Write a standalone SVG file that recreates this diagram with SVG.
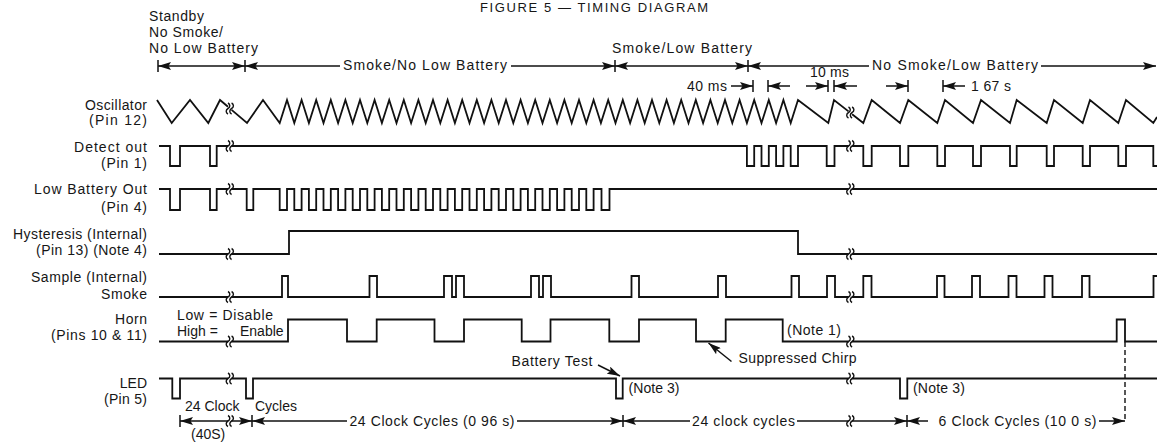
<svg xmlns="http://www.w3.org/2000/svg" width="1157" height="442" viewBox="0 0 1157 442">
<style>
.t{font-family:"Liberation Sans",Arial,Helvetica,sans-serif;font-size:14px;fill:#161616;white-space:pre}
.e{text-anchor:end}
.sig{fill:none;stroke:#111;stroke-width:1.8;stroke-linejoin:miter}
.ar{fill:none;stroke:#111;stroke-width:1.5}
.tk{stroke:#111;stroke-width:1.5}
.brk{fill:none;stroke:#111;stroke-width:1.4}
</style>
<defs>
<marker id="ah" viewBox="0 0 13 8" refX="13" refY="4" markerWidth="13" markerHeight="8" markerUnits="userSpaceOnUse" orient="auto-start-reverse">
<path d="M0,0 L13,4 L0,8 L2.5,4 Z" fill="#111"/>
</marker>
<path id="brk" d="M0,-5.5 c2.4,1.2 2.4,4.3 0,5.5 c-2.4,1.2 -2.4,4.3 0,5.5 M3.6,-5.5 c2.4,1.2 2.4,4.3 0,5.5 c-2.4,1.2 -2.4,4.3 0,5.5"/>
</defs>
<rect width="1157" height="442" fill="#fff"/>

<text class="t" x="480" y="11.5" style="font-size:13px" textLength="228" lengthAdjust="spacing">FIGURE 5 — TIMING DIAGRAM</text>

<g id="labels">
<text class="t e" x="147" y="109.5" textLength="62">Oscillator</text>
<text class="t e" x="147" y="124.5" textLength="58">(Pin 12)</text>
<text class="t e" x="147" y="151.5" textLength="73">Detect out</text>
<text class="t e" x="147" y="167.5" textLength="46">(Pin 1)</text>
<text class="t e" x="147" y="193.5" textLength="113">Low Battery Out</text>
<text class="t e" x="147" y="211.5" textLength="46">(Pin 4)</text>
<text class="t e" x="147" y="238.5" textLength="134">Hysteresis (Internal)</text>
<text class="t e" x="147" y="255" textLength="111">(Pin 13) (Note 4)</text>
<text class="t e" x="147" y="281.5" textLength="116">Sample (Internal)</text>
<text class="t e" x="147" y="298.5" textLength="46">Smoke</text>
<text class="t e" x="147" y="324" textLength="32">Horn</text>
<text class="t e" x="147" y="340" textLength="96">(Pins 10 &amp; 11)</text>
<text class="t e" x="147" y="388">LED</text>
<text class="t e" x="147" y="404" textLength="43">(Pin 5)</text>
</g>

<g id="header">
<text class="t" x="149" y="21" textLength="55">Standby</text>
<text class="t" x="149" y="37" textLength="74">No Smoke/</text>
<text class="t" x="149" y="52.5" textLength="109">No Low Battery</text>
<text class="t" x="343" y="70" textLength="164">Smoke/No Low Battery</text>
<text class="t" x="612" y="52.5" textLength="140">Smoke/Low Battery</text>
<text class="t" x="872" y="70" textLength="166">No Smoke/Low Battery</text>
<text class="t" x="687" y="90.5" textLength="40">40 ms</text>
<text class="t" x="810" y="77" textLength="39">10 ms</text>
<text class="t" x="971" y="90.5" textLength="40">1 67 s</text>
</g>

<g id="connectors">
<line class="ar" x1="158" y1="66" x2="245" y2="66" marker-start="url(#ah)" marker-end="url(#ah)"/>
<line class="ar" x1="245" y1="66" x2="340" y2="66" marker-start="url(#ah)"/>
<line class="ar" x1="511" y1="66" x2="615" y2="66" marker-end="url(#ah)"/>
<line class="ar" x1="615" y1="66" x2="748" y2="66" marker-start="url(#ah)" marker-end="url(#ah)"/>
<line class="ar" x1="748" y1="66" x2="869" y2="66" marker-start="url(#ah)"/>
<line class="ar" x1="1041" y1="66" x2="1156" y2="66" marker-end="url(#ah)"/>
<path class="tk" d="M158,60V72 M245,60V72 M615,60V72 M748,60V72"/>

<line class="ar" x1="731" y1="86" x2="753" y2="86" marker-end="url(#ah)"/>
<line class="ar" x1="790" y1="86" x2="768" y2="86" marker-end="url(#ah)"/>
<line class="ar" x1="806" y1="86" x2="828" y2="86" marker-end="url(#ah)"/>
<line class="ar" x1="857" y1="86" x2="834" y2="86" marker-end="url(#ah)"/>
<line class="ar" x1="886" y1="86" x2="908" y2="86" marker-end="url(#ah)"/>
<line class="ar" x1="965" y1="86" x2="943" y2="86" marker-end="url(#ah)"/>
<path class="tk" d="M753,80V92 M768,80V92 M828,80V92 M834,80V92 M908,80V92 M943,80V92"/>

<line class="ar" x1="228" y1="421" x2="180" y2="421" marker-end="url(#ah)"/>
<line class="ar" x1="231.6" y1="421" x2="252" y2="421" marker-end="url(#ah)"/>
<line class="ar" x1="347" y1="421" x2="252" y2="421" marker-end="url(#ah)"/>
<line class="ar" x1="517" y1="421" x2="623" y2="421" marker-end="url(#ah)"/>
<line class="ar" x1="690" y1="421" x2="623" y2="421" marker-end="url(#ah)"/>
<line class="ar" x1="797" y1="421" x2="848.5" y2="421"/>
<line class="ar" x1="852.1" y1="421" x2="907" y2="421" marker-end="url(#ah)"/>
<line class="ar" x1="928" y1="421" x2="907" y2="421" marker-end="url(#ah)"/>
<line class="ar" x1="1099" y1="421" x2="1125" y2="421" marker-end="url(#ah)"/>
<path class="tk" d="M180,415V427 M252,415V427 M623,415V427 M907,415V427"/>
<line x1="1125" y1="342" x2="1125" y2="420" stroke="#111" stroke-width="1.4" stroke-dasharray="5,3"/>
<use href="#brk" class="brk" x="228" y="421"/>
<use href="#brk" class="brk" x="848.5" y="421"/>

<line class="ar" x1="598" y1="365" x2="620" y2="376" marker-end="url(#ah)"/>
<line class="ar" x1="731.5" y1="361.5" x2="708.5" y2="343" marker-end="url(#ah)"/>
</g>

<g id="oscillator">
<path class="sig" d="M157,100 L171.7,123 L190,100 L208.3,123 L220,100 L228,106.8"/>
<path class="sig" d="M231.6,109.9 L247,123 L263,100 L279.7,123 L287,100 L294.3,123 L301.6,100 L308.9,123 L316.2,100 L323.5,123 L330.8,100 L338.1,123 L345.4,100 L352.7,123 L360,100 L367.3,123 L374.6,100 L381.9,123 L389.2,100 L396.5,123 L403.8,100 L411.1,123 L418.4,100 L425.7,123 L433,100 L440.3,123 L447.6,100 L454.9,123 L462.2,100 L469.5,123 L476.8,100 L484.1,123 L491.4,100 L498.7,123 L506,100 L513.3,123 L520.6,100 L527.9,123 L535.2,100 L542.5,123 L549.8,100 L557.1,123 L564.4,100 L571.7,123 L579,100 L586.3,123 L593.6,100 L600.9,123 L608.2,100 L615.5,123 L622.8,100 L630.1,123 L637.4,100 L644.7,123 L652,100 L659.3,123 L666.6,100 L673.9,123 L681.2,100 L688.5,123 L695.8,100 L703.1,123 L710.4,100 L717.7,123 L725,100 L732.3,123 L739.6,100 L746.9,123 L754.2,100 L761.5,123 L768.8,100 L776.1,123 L783.4,100 L790.7,123 L798,100 L828.3,123 L834,100 L848.5,111.4"/>
<path class="sig" d="M852.1,114.2 L863.3,123 L871.7,100 L900,123 L908.3,100 L937.3,123 L945,100 L973,123 L981,100 L1010,123 L1016.7,100 L1046.7,123 L1054,100 L1082.7,123 L1090,100 L1118.3,123 L1126,100 L1153.3,123 L1157,117"/>
<use href="#brk" class="brk" x="228" y="108.5"/>
<use href="#brk" class="brk" x="848.5" y="112.5"/>
</g>

<g id="detect">
<path class="sig" d="M159,146 H170 V166 H180 V146 H210 V166 H216.7 V146 H228"/>
<path class="sig" d="M231.6,146 H746.9 V166 H754.2 V146 H761.5 V166 H768.8 V146 H776.1 V166 H783.4 V146 H790.7 V166 H798 V146 H826.7 V166 H834.5 V146 H848.5"/>
<path class="sig" d="M852.1,146 H863.3 V166 H871.7 V146 H900 V166 H908.3 V146 H937.3 V166 H945 V146 H973 V166 H981 V146 H1010 V166 H1016.7 V146 H1046.7 V166 H1054 V146 H1082.7 V166 H1090 V146 H1118.3 V166 H1126 V146 H1153.3 V166 H1157"/>
<use href="#brk" class="brk" x="228" y="146"/>
<use href="#brk" class="brk" x="848.5" y="146"/>
</g>

<g id="lowbattery">
<path class="sig" d="M159,189 H170 V210 H180 V189 H210 V210 H216.7 V189 H228"/>
<path class="sig" d="M231.6,189 H246.7 V210 H253.3 V189 H279.7 V210 H287 V189 H294.3 V210 H301.6 V189 H308.9 V210 H316.2 V189 H323.5 V210 H330.8 V189 H338.1 V210 H345.4 V189 H352.7 V210 H360 V189 H367.3 V210 H374.6 V189 H381.9 V210 H389.2 V189 H396.5 V210 H403.8 V189 H411.1 V210 H418.4 V189 H425.7 V210 H433 V189 H440.3 V210 H447.6 V189 H454.9 V210 H462.2 V189 H469.5 V210 H476.8 V189 H484.1 V210 H491.4 V189 H498.7 V210 H506 V189 H513.3 V210 H520.6 V189 H527.9 V210 H535.2 V189 H542.5 V210 H549.8 V189 H557.1 V210 H564.4 V189 H571.7 V210 H579 V189 H586.3 V210 H593.6 V189 H601.5 V210 H609.5 V189 H848.5"/>
<path class="sig" d="M852.1,189 H1157"/>
<use href="#brk" class="brk" x="228" y="189"/>
<use href="#brk" class="brk" x="848.5" y="189"/>
</g>

<g id="hysteresis">
<path class="sig" d="M159,254 H228"/>
<path class="sig" d="M231.6,254 H289 V231 H798 V254 H848.5"/>
<path class="sig" d="M852.1,254 H1157"/>
<use href="#brk" class="brk" x="228" y="254"/>
<use href="#brk" class="brk" x="848.5" y="254"/>
</g>

<g id="sample">
<path class="sig" d="M159,297 H228"/>
<path class="sig" d="M231.6,297 H282 V276 H288 V297 H369.5 V276 H377 V297 H444 V276 H452 V297 H456 V276 H464 V297 H531 V276 H539 V297 H543 V276 H551 V297 H631.5 V276 H639 V297 H718 V276 H726 V297 H791.5 V276 H799 V297 H827 V276 H835 V297 H848.5"/>
<path class="sig" d="M852.1,297 H863.3 V276 H871.5 V297 H937 V276 H944.5 V297 H972 V276 H980 V297 H1008.5 V276 H1016.5 V297 H1044.5 V276 H1052.5 V297 H1082 V276 H1089.5 V297 H1153.5 V276 H1157"/>
<use href="#brk" class="brk" x="228" y="297"/>
<use href="#brk" class="brk" x="848.5" y="297"/>
</g>

<g id="horn">
<path class="sig" d="M159,341.5 H228"/>
<path class="sig" d="M231.6,341.5 H288 V319.5 H347 V341.5 H376.7 V319.5 H434.5 V341.5 H464 V319.5 H521.7 V341.5 H550.5 V319.5 H609.3 V341.5 H639 V319.5 H696 V341.5 H725.7 V319.5 H782.7 V341.5 H848.5"/>
<path class="sig" d="M852.1,341.5 H1116.7 V319.5 H1125 V341.5 H1157"/>
<use href="#brk" class="brk" x="228" y="341.5"/>
<use href="#brk" class="brk" x="848.5" y="341.5"/>
<text class="t" x="177" y="320" textLength="96">Low = Disable</text>
<text class="t" x="177" y="336">High =</text>
<text class="t" x="240" y="336">Enable</text>
<text class="t" x="787" y="334.5" textLength="54">(Note 1)</text>
<text class="t" x="738.5" y="363" textLength="118">Suppressed Chirp</text>
</g>

<g id="led">
<path class="sig" d="M159,378.5 H172.3 V398.5 H180 V378.5 H228"/>
<path class="sig" d="M231.6,378.5 H246 V398.5 H253 V378.5 H616 V398.5 H622.7 V378.5 H848.5"/>
<path class="sig" d="M852.1,378.5 H900 V398.5 H907.3 V378.5 H1157"/>
<use href="#brk" class="brk" x="228" y="378.5"/>
<use href="#brk" class="brk" x="848.5" y="378.5"/>
<text class="t" x="511.5" y="365.5" textLength="81">Battery Test</text>
<text class="t" x="628.5" y="393" textLength="51">(Note 3)</text>
<text class="t" x="913" y="393" textLength="52">(Note 3)</text>
</g>

<g id="cycles">
<text class="t" y="410.5"><tspan x="185">24 Clock</tspan><tspan x="255">Cycles</tspan></text>
<text class="t" x="191" y="438.5">(40S)</text>
<text class="t" x="349.5" y="426" textLength="165">24 Clock Cycles (0 96 s)</text>
<text class="t" x="692" y="426" textLength="103">24 clock cycles</text>
<text class="t" x="938.5" y="426" textLength="158">6 Clock Cycles (10 0 s)</text>
</g>
</svg>
